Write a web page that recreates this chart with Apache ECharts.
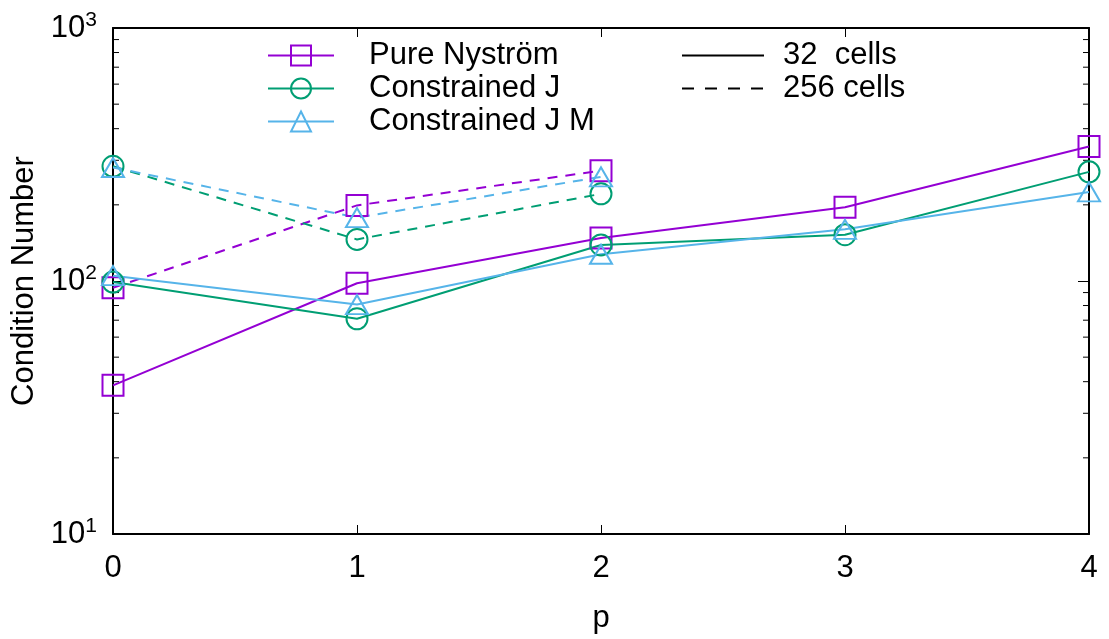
<!DOCTYPE html>
<html>
<head>
<meta charset="utf-8">
<script src="https://cdn.jsdelivr.net/npm/echarts@6/dist/echarts.min.js"></script>
<style>
  html, body { margin: 0; padding: 0; background: #fff; }
  #chart { width: 1109px; height: 639px; }
</style>
</head>
<body>
<div id="chart"></div>
<script>
// Polynomial degree p on the x axis
const pValues = [0, 1, 2, 3, 4];

// Condition numbers, 32 cells (p = 0..4)
const nystrom32 = [38.7, 98, 147.8, 195.5, 340];
const constrJ32 = [99, 70.9, 138.8, 152.4, 270];
const constrJM32 = [105, 80.7, 127.6, 160, 225];

// Condition numbers, 256 cells (p = 0..2)
const nystrom256 = [94, 199, 273];
const constrJ256 = [284, 146, 221];
const constrJM256 = [281, 178, 258];

// Minor tick positions on the logarithmic axis
const minorTicks = [20, 30, 40, 50, 60, 70, 80, 90, 200, 300, 400, 500, 600, 700, 800, 900];

const methodNames = ['Pure Nyström', 'Constrained J', 'Constrained J M'];
const sizeNames = ['32  cells', '256 cells'];

const colors = ['#9400d3', '#009e73', '#56b4e9'];
const symbols = ['rect', 'circle', 'triangle'];
const symbolSizes = [[21, 21], 21, [22, 19]];

const FONT = 'Liberation Sans';
const FS = 31;

function pairs(vals) {
  return vals.map((v, i) => [pValues[i], v]);
}

function methodSeries(idx, vals, dashed) {
  return {
    name: methodNames[idx],
    type: 'line',
    data: pairs(vals),
    symbol: symbols[idx],
    symbolSize: symbolSizes[idx],
    showAllSymbol: true,
    z: dashed ? 3 : 4,
    lineStyle: { color: colors[idx], width: 2, type: dashed ? [10, 8] : 'solid' },
    itemStyle: { color: 'rgba(0,0,0,0)', borderColor: colors[idx], borderWidth: 2 },
    emphasis: { disabled: true },
    animation: false
  };
}

// Short inward ticks on both sides of the frame for the minor log divisions
const minorTickSeries = {
  type: 'custom',
  silent: true,
  animation: false,
  data: minorTicks.map(v => [0, v]),
  renderItem: function (params, api) {
    const y = api.coord([0, api.value(1)])[1];
    const cs = params.coordSys;
    const len = 6;
    return {
      type: 'group',
      children: [
        { type: 'line', shape: { x1: cs.x, y1: y, x2: cs.x + len, y2: y }, style: { stroke: '#000', lineWidth: 1 } },
        { type: 'line', shape: { x1: cs.x + cs.width - len, y1: y, x2: cs.x + cs.width, y2: y }, style: { stroke: '#000', lineWidth: 1 } }
      ]
    };
  },
  z: 1
};

const supDigits = { 10: '1', 100: '2', 1000: '3' };

const chart = echarts.init(document.getElementById('chart'), null, { renderer: 'canvas' });

const legendText = { fontFamily: FONT, fontSize: FS, color: '#000', lineHeight: 28 };

const option = {
  backgroundColor: '#fff',
  animation: false,
  textStyle: { fontFamily: FONT },
  grid: { left: 113, top: 28, right: 20, bottom: 101, show: false },
  legend: [
    {
      data: methodNames,
      orient: 'vertical',
      left: 262,
      top: 35,
      itemWidth: 66,
      itemHeight: 25,
      itemGap: 2,
      selectedMode: false,
      textStyle: Object.assign({}, legendText, { padding: [0, 0, 0, 30] })
    },
    {
      data: sizeNames,
      orient: 'vertical',
      left: 676,
      top: 35,
      itemWidth: 82,
      itemHeight: 25,
      itemGap: 2,
      selectedMode: false,
      itemStyle: { color: 'rgba(0,0,0,0)', borderColor: 'rgba(0,0,0,0)', borderWidth: 0 },
      textStyle: Object.assign({}, legendText, { padding: [0, 0, 0, 14] })
    }
  ],
  xAxis: [
    {
      type: 'value',
      min: 0,
      max: 4,
      interval: 1,
      name: 'p',
      nameLocation: 'middle',
      nameGap: 69,
      nameTextStyle: { fontFamily: FONT, fontSize: FS, color: '#000' },
      axisLine: { show: true, onZero: false, lineStyle: { color: '#000', width: 2 } },
      axisTick: { show: true, inside: true, length: 9, lineStyle: { color: '#000', width: 1 } },
      axisLabel: { fontFamily: FONT, fontSize: FS, color: '#000', margin: 19 },
      splitLine: { show: false }
    },
    {
      type: 'value',
      position: 'top',
      min: 0,
      max: 4,
      interval: 1,
      axisLine: { show: true, onZero: false, lineStyle: { color: '#000', width: 2 } },
      axisTick: { show: true, inside: true, length: 9, lineStyle: { color: '#000', width: 1 } },
      axisLabel: { show: false },
      splitLine: { show: false }
    }
  ],
  yAxis: [
    {
      type: 'log',
      logBase: 10,
      min: 10,
      max: 1000,
      name: 'Condition Number',
      nameLocation: 'middle',
      nameRotate: 90,
      nameGap: 63,
      nameTextStyle: { fontFamily: FONT, fontSize: FS, color: '#000' },
      axisLine: { show: true, onZero: false, lineStyle: { color: '#000', width: 2 } },
      axisTick: { show: true, inside: true, length: 11, lineStyle: { color: '#000', width: 1 } },
      axisLabel: {
        fontFamily: FONT,
        color: '#000',
        margin: 16,
        formatter: function (v) {
          return '{b|10}{s|' + supDigits[Math.round(v)] + '}';
        },
        rich: {
          b: { fontFamily: FONT, fontSize: FS, color: '#000' },
          s: { fontFamily: FONT, fontSize: 21, color: '#000', padding: [0, 0, 16, 0] }
        }
      },
      splitLine: { show: false }
    },
    {
      type: 'log',
      logBase: 10,
      min: 10,
      max: 1000,
      position: 'right',
      axisLine: { show: true, onZero: false, lineStyle: { color: '#000', width: 2 } },
      axisTick: { show: true, inside: true, length: 11, lineStyle: { color: '#000', width: 1 } },
      axisLabel: { show: false },
      splitLine: { show: false }
    }
  ],
  series: [
    methodSeries(0, nystrom32, false),
    methodSeries(1, constrJ32, false),
    methodSeries(2, constrJM32, false),
    methodSeries(0, nystrom256, true),
    methodSeries(1, constrJ256, true),
    methodSeries(2, constrJM256, true),
    {
      name: sizeNames[0], type: 'line', data: [], symbol: 'none',
      lineStyle: { color: '#000', width: 2, type: 'solid' },
      itemStyle: { color: 'rgba(0,0,0,0)', borderColor: 'rgba(0,0,0,0)', borderWidth: 0 }
    },
    {
      name: sizeNames[1], type: 'line', data: [], symbol: 'none',
      lineStyle: { color: '#000', width: 2, type: [12, 11] },
      itemStyle: { color: 'rgba(0,0,0,0)', borderColor: 'rgba(0,0,0,0)', borderWidth: 0 }
    },
    minorTickSeries
  ]
};

chart.setOption(option);
</script>
</body>
</html>
